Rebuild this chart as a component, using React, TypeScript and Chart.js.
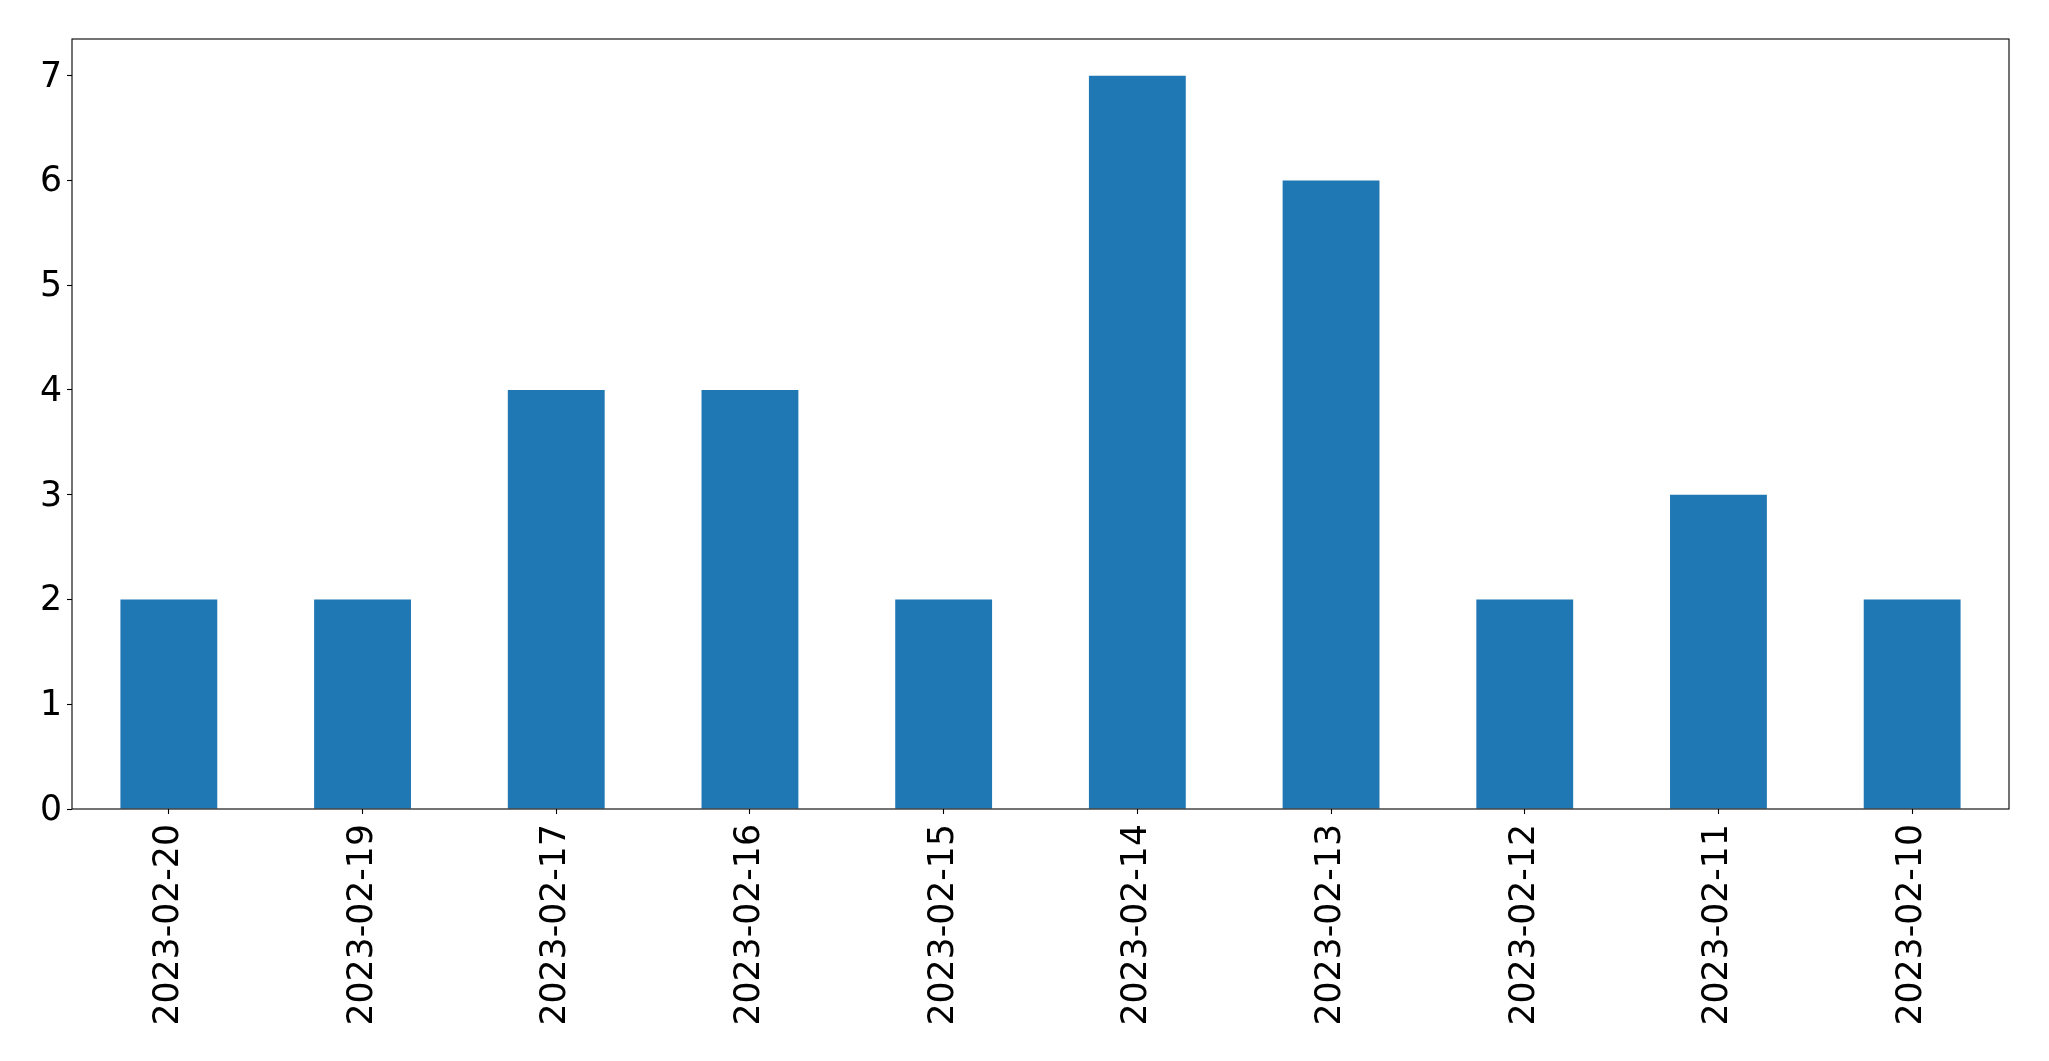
import React, { useEffect, useRef } from "react";
import { Chart, registerables } from "chart.js";

Chart.register(...registerables);

const categories = [
  "2023-02-20",
  "2023-02-19",
  "2023-02-17",
  "2023-02-16",
  "2023-02-15",
  "2023-02-14",
  "2023-02-13",
  "2023-02-12",
  "2023-02-11",
  "2023-02-10",
];
const counts = [2, 2, 4, 4, 2, 7, 6, 2, 3, 2];
const yTicks = [0, 1, 2, 3, 4, 5, 6, 7];

const W = 2049;
const H = 1061;
const LEFT = 72;
const TOP = 39;
const RIGHT = 2009;
const BOTTOM = 809;
const FONT = { family: "DejaVu Sans", size: 34.7 };

const framePlugin = {
  id: "frame",
  afterDatasetsDraw(chart: any) {
    const { ctx, chartArea } = chart;
    ctx.save();
    ctx.strokeStyle = "#000";
    ctx.lineWidth = 1.1;
    ctx.strokeRect(chartArea.left, chartArea.top, chartArea.right - chartArea.left, chartArea.bottom - chartArea.top);
    ctx.restore();
  },
};

export default function App() {
  const ref = useRef<HTMLCanvasElement | null>(null);
  useEffect(() => {
    if (!ref.current) return;
    const yMax = Math.max(...counts) * 1.05;
    const chart = new Chart(ref.current, {
      type: "bar",
      data: {
        labels: categories,
        datasets: [
          {
            data: counts,
            backgroundColor: "#1f77b4",
            borderWidth: 0,
            categoryPercentage: 1,
            barPercentage: 0.5,
          },
        ],
      },
      options: {
        animation: false,
        responsive: false,
        devicePixelRatio: 1,
        layout: { padding: { left: 0, top: TOP, right: W - RIGHT, bottom: 0 } },
        plugins: { legend: { display: false }, tooltip: { enabled: false } },
        scales: {
          x: {
            offset: true,
            grid: {
              offset: false,
              drawOnChartArea: false,
              drawTicks: true,
              tickLength: 5,
              color: "#000",
              tickWidth: 1.1,
            },
            border: { display: false },
            ticks: {
              color: "#000",
              font: FONT,
              minRotation: 90,
              maxRotation: 90,
              autoSkip: false,
              padding: 10,
            },
            afterFit(scale: any) {
              scale.height = H - BOTTOM;
            },
          },
          y: {
            min: 0,
            max: yMax,
            grid: {
              drawOnChartArea: false,
              drawTicks: true,
              tickLength: 5,
              color: "#000",
              tickWidth: 1.1,
            },
            border: { display: false },
            ticks: {
              color: "#000",
              font: FONT,
              padding: 5,
              stepSize: 1,
              includeBounds: false,
            },
            afterBuildTicks(scale: any) {
              scale.ticks = yTicks.map((v) => ({ value: v }));
            },
            afterFit(scale: any) {
              scale.width = LEFT;
            },
            afterUpdate(scale: any) {
              if (!scale.__patched) {
                const orig = scale._computeLabelItems.bind(scale);
                scale._computeLabelItems = (ca: any) =>
                  orig(ca).map((it: any) => ({ ...it, textOffset: it.textOffset + 2 }));
                scale.__patched = true;
              }
            },
          },
        },
      },
      plugins: [framePlugin],
    });
    return () => chart.destroy();
  }, []);
  return (
    <div style={{ position: "absolute", left: 0, top: 0, width: W, height: H, background: "#fff" }}>
      <canvas ref={ref} width={W} height={H} style={{ display: "block" }} />
    </div>
  );
}
